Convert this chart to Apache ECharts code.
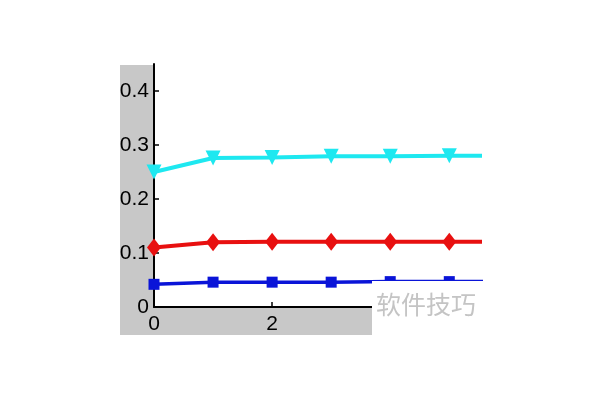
<!DOCTYPE html>
<html><head><meta charset="utf-8">
<script src="https://cdn.jsdelivr.net/npm/echarts@6/dist/echarts.min.js"></script>
<style>html,body{margin:0;padding:0;background:#fff}#c{width:600px;height:400px}</style>
</head><body><div id="c"></div>
<script>
const xValues = [0, 1, 2, 3, 4, 5, 6];
const cyanValues = [0.25, 0.276, 0.277, 0.279, 0.279, 0.28, 0.28];
const redValues = [0.11, 0.12, 0.121, 0.121, 0.121, 0.121, 0.121];
const blueValues = [0.042, 0.046, 0.046, 0.046, 0.047, 0.047, 0.047];
const yTicks = [0, 0.1, 0.2, 0.3, 0.4];
const xTicks = [0, 2];
const watermark = '软件技巧';

const pairs = v => xValues.map((x, i) => [x, v[i]]);
const font = 'Liberation Sans, Arial, sans-serif';
const chart = echarts.init(document.getElementById('c'));
chart.setOption({
  animation: false,
  backgroundColor: '#fff',
  graphic: [
    { type: 'rect', left: 120, top: 65, shape: { width: 34, height: 270 }, style: { fill: '#c8c8c8' }, z: -10 },
    { type: 'rect', left: 120, top: 307, shape: { width: 252, height: 28 }, style: { fill: '#c8c8c8' }, z: -10 },
    { type: 'rect', left: 372, top: 281, shape: { width: 228, height: 60 }, style: { fill: '#fff' }, z: 100 },
    { type: 'rect', left: 372, top: 280, shape: { width: 108, height: 1 }, style: { fill: '#0a14d8' }, z: 101 },
    { type: 'text', left: 376, top: 292, style: { text: watermark, fill: '#c4c4c4', font: '25px "Noto Sans CJK SC"' }, z: 102 }
  ],
  grid: [
    { left: 154, right: 228, top: 64, bottom: 93, show: false },
    { left: 154, right: 120, top: 64, bottom: 93, show: false }
  ],
  xAxis: [
    { gridIndex: 0, type: 'value', min: 0, max: 3.69, interval: 2,
      axisLine: { lineStyle: { color: '#000', width: 2 } },
      axisTick: { inside: true, length: 5, customValues: xTicks, lineStyle: { color: '#000', width: 1.5 } },
      splitLine: { show: false },
      axisLabel: { color: '#000', fontSize: 21, fontFamily: font, margin: 7, customValues: xTicks,
        formatter: v => String(v) } },
    { gridIndex: 1, type: 'value', min: 0, max: 5.52, show: false }
  ],
  yAxis: [
    { gridIndex: 0, type: 'value', min: 0, max: 0.45, interval: 0.1,
      axisLine: { show: true, lineStyle: { color: '#000', width: 2 } },
      axisTick: { show: true, inside: true, length: 5, customValues: yTicks, lineStyle: { color: '#000', width: 1.5 } },
      splitLine: { show: false },
      axisLabel: { color: '#000', fontSize: 21, fontFamily: font, margin: 5, customValues: yTicks,
        formatter: v => String(Math.round(v * 10) / 10) } },
    { gridIndex: 1, type: 'value', min: 0, max: 0.45, show: false }
  ],
  series: [
    { type: 'line', xAxisIndex: 1, yAxisIndex: 1, data: pairs(cyanValues), color: '#1ee8f0',
      lineStyle: { width: 4 }, symbol: 'triangle', symbolRotate: 180, symbolSize: 15, clip: true, z: 3 },
    { type: 'line', xAxisIndex: 1, yAxisIndex: 1, data: pairs(redValues), color: '#e81010',
      lineStyle: { width: 4 }, symbol: 'diamond', symbolSize: [14, 18], clip: true, z: 3 },
    { type: 'line', xAxisIndex: 1, yAxisIndex: 1, data: pairs(blueValues), color: '#0a14d8',
      lineStyle: { width: 3.5 }, symbol: 'rect', symbolSize: 11, clip: true, z: 3 }
  ]
});
</script></body></html>
